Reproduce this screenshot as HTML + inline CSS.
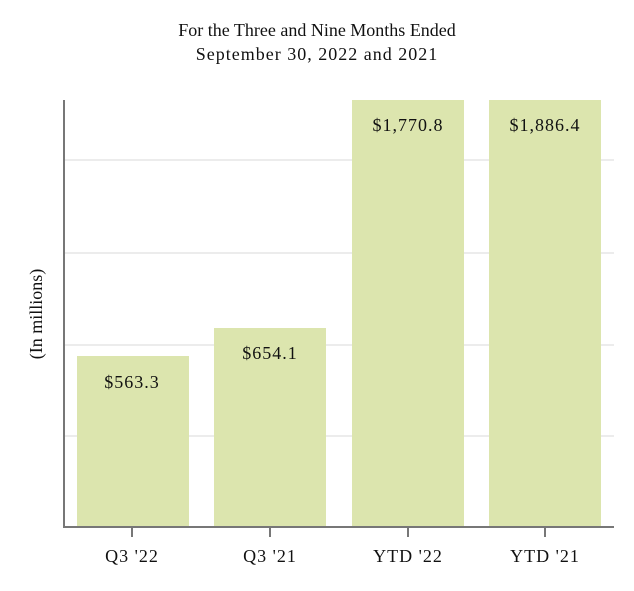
<!DOCTYPE html>
<html><head><meta charset="utf-8"><style>
body{margin:0;background:#fff}
svg text{font-family:"Liberation Serif",serif;fill:#111}
</style></head><body>
<svg width="634" height="586" xmlns="http://www.w3.org/2000/svg">
<text x="317" y="36" font-size="18" text-anchor="middle">For the Three and Nine Months Ended</text>
<text x="317" y="60" font-size="18" text-anchor="middle" letter-spacing="1">September 30, 2022 and 2021</text>
<g stroke="#e6e6e6" stroke-width="1.5">
<line x1="64" x2="614" y1="160" y2="160"/>
<line x1="64" x2="614" y1="253" y2="253"/>
<line x1="64" x2="614" y1="345" y2="345"/>
<line x1="64" x2="614" y1="436" y2="436"/>
</g>
<g fill="#dce5ae">
<rect x="77" y="356" width="112" height="170"/>
<rect x="214" y="328" width="112" height="198"/>
<rect x="352" y="100" width="112" height="426"/>
<rect x="489" y="100" width="112" height="426"/>
</g>
<g stroke="#777" stroke-width="2">
<line x1="64" y1="100" x2="64" y2="527"/>
<line x1="63" y1="527" x2="614" y2="527"/>
<line x1="132" y1="527" x2="132" y2="537"/>
<line x1="270" y1="527" x2="270" y2="537"/>
<line x1="408" y1="527" x2="408" y2="537"/>
<line x1="545" y1="527" x2="545" y2="537"/>
</g>
<g font-size="18" text-anchor="middle" letter-spacing="1">
<text x="132" y="388">$563.3</text>
<text x="270" y="359">$654.1</text>
<text x="408" y="131">$1,770.8</text>
<text x="545" y="131">$1,886.4</text>
<text x="132" y="562">Q3 '22</text>
<text x="270" y="562">Q3 '21</text>
<text x="408" y="562">YTD '22</text>
<text x="545" y="562">YTD '21</text>
</g>
<text transform="translate(42,314) rotate(-90)" font-size="18" text-anchor="middle">(In millions)</text>
</svg>
</body></html>
